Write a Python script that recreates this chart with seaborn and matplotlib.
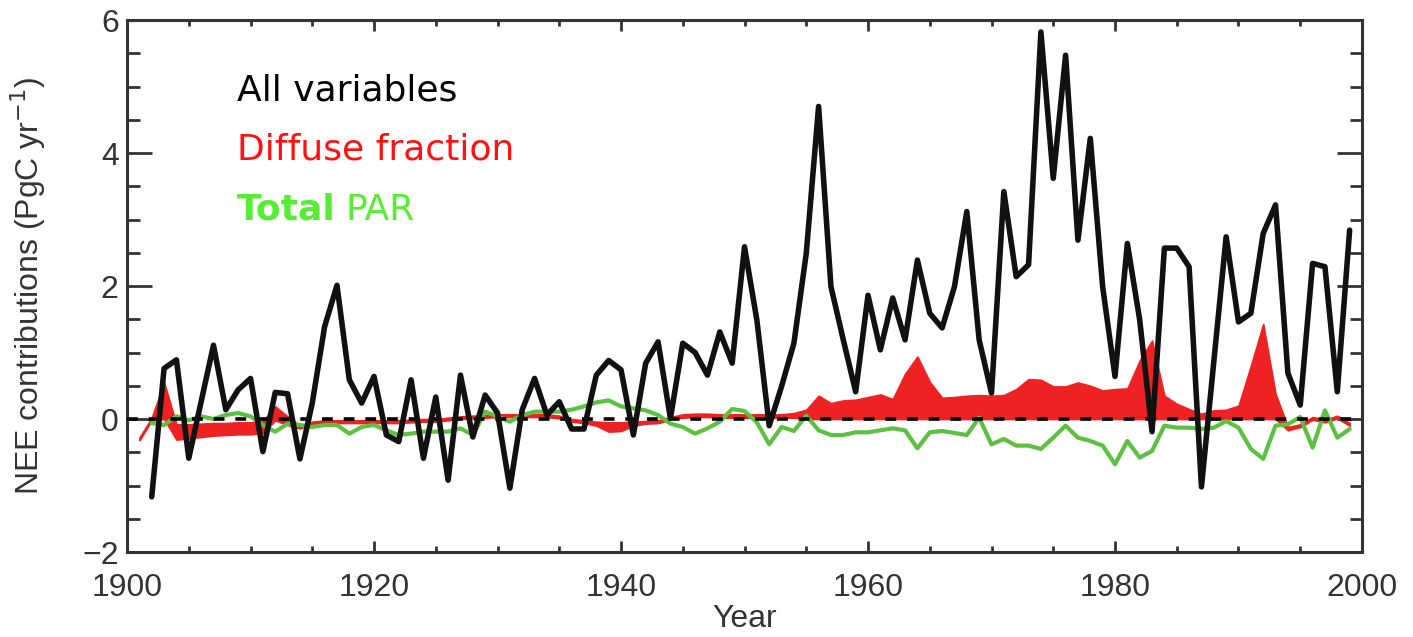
import numpy as np
import pandas as pd
import matplotlib
matplotlib.use("Agg")
import matplotlib.pyplot as plt
from matplotlib.ticker import MultipleLocator
import seaborn as sns

# ---------------- data ----------------
years = list(range(1902, 2000))
all_variables = [
    -1.17, 0.76, 0.89, -0.59, 0.26, 1.11, 0.14, 0.44, 0.61, -0.49,   # 1902-1911
    0.40, 0.38, -0.60, 0.24, 1.39, 2.01, 0.59, 0.24, 0.64, -0.24,    # 1912-1921
    -0.34, 0.59, -0.59, 0.33, -0.92, 0.66, -0.27, 0.36, 0.09, -1.04, # 1922-1931
    0.14, 0.61, 0.06, 0.26, -0.15, -0.15, 0.66, 0.88, 0.74, -0.24,   # 1932-1941
    0.84, 1.16, 0.01, 1.14, 1.00, 0.66, 1.31, 0.84, 2.59, 1.49,      # 1942-1951
    -0.10, 0.49, 1.14, 2.49, 4.70, 1.99, 1.19, 0.41, 1.86, 1.04,     # 1952-1961
    1.82, 1.19, 2.39, 1.59, 1.37, 1.99, 3.12, 1.19, 0.39, 3.42,      # 1962-1971
    2.14, 2.32, 5.82, 3.62, 5.47, 2.69, 4.22, 1.99, 0.64, 2.64,      # 1972-1981
    1.49, -0.19, 2.57, 2.57, 2.29, -1.02, 0.86, 2.74, 1.46, 1.59,    # 1982-1991
    2.79, 3.22, 0.69, 0.21, 2.34, 2.29, 0.41, 2.84,                  # 1992-1999
]
total_par = [
    -0.06, -0.09, 0.04, -0.02, 0.04, 0.00, 0.06, 0.09, 0.04, -0.09,   # 1902-1911
    -0.19, -0.07, -0.09, -0.12, -0.09, -0.09, -0.22, -0.12, -0.09, -0.17,
    -0.24, -0.22, -0.19, -0.19, -0.19, -0.14, -0.24, 0.11, 0.04, -0.04,
    0.06, 0.11, 0.11, 0.11, 0.14, 0.19, 0.25, 0.28, 0.19, 0.16,
    0.13, 0.06, -0.07, -0.12, -0.22, -0.14, -0.04, 0.15, 0.12, -0.05,
    -0.38, -0.12, -0.18, 0.05, -0.17, -0.24, -0.24, -0.20, -0.20, -0.17,
    -0.14, -0.17, -0.44, -0.20, -0.18, -0.21, -0.24, 0.02, -0.38, -0.30,
    -0.40, -0.40, -0.45, -0.28, -0.10, -0.28, -0.33, -0.40, -0.68, -0.33,
    -0.58, -0.48, -0.10, -0.13, -0.13, -0.15, -0.13, -0.03, -0.13, -0.45,
    -0.60, -0.10, -0.08, 0.03, -0.43, 0.13, -0.28, -0.15,
]

diffuse_years = list(range(1901, 2000))
diffuse_hi = [
    -0.28, 0.02, 0.55, -0.08, -0.08, -0.07, -0.06, -0.06, -0.05, -0.05,  # 1901-1910
    -0.03, 0.19, 0.04, -0.10, -0.04, -0.02, -0.02, -0.02, -0.02, -0.02,  # 1911-1920
    -0.02, -0.02, -0.01, 0.00, 0.00, 0.02, 0.04, 0.05, 0.06, 0.07,       # 1921-1930
    0.07, 0.07, 0.07, 0.07, 0.05, 0.00, -0.02, -0.04, -0.05, -0.05,      # 1931-1940
    -0.04, -0.03, -0.02, 0.03, 0.07, 0.08, 0.08, 0.07, 0.07, 0.07,       # 1941-1950
    0.07, 0.07, 0.07, 0.09, 0.14, 0.35, 0.24, 0.28, 0.29, 0.33,          # 1951-1960
    0.37, 0.30, 0.68, 0.94, 0.56, 0.32, 0.33, 0.35, 0.36, 0.35,          # 1961-1970
    0.36, 0.45, 0.60, 0.59, 0.49, 0.49, 0.55, 0.50, 0.43, 0.45,          # 1971-1980
    0.46, 0.88, 1.18, 0.35, 0.23, 0.15, 0.08, 0.13, 0.14, 0.20,          # 1981-1990
    0.80, 1.43, 0.38, -0.12, -0.08, 0.03, -0.01, 0.05, -0.06,            # 1991-1999
]
diffuse_lo = [
    -0.32, -0.02, 0.00, -0.31, -0.29, -0.27, -0.25, -0.24, -0.23, -0.23,
    -0.21, -0.02, -0.09, -0.14, -0.08, -0.06, -0.06, -0.06, -0.06, -0.06,
    -0.06, -0.06, -0.05, -0.04, -0.04, -0.02, 0.00, 0.01, 0.02, 0.03,
    0.03, 0.03, 0.03, 0.03, 0.01, -0.04, -0.06, -0.10, -0.19, -0.18,
    -0.10, -0.07, -0.06, -0.01, 0.02, 0.03, 0.03, 0.02, 0.02, 0.02,
    0.02, 0.02, 0.02, 0.02, 0.00, 0.00, 0.00, 0.00, 0.00, 0.00,
    0.00, 0.00, 0.00, 0.00, 0.00, 0.00, 0.00, 0.00, 0.00, 0.00,
    0.00, 0.00, 0.00, 0.00, 0.00, 0.00, 0.00, 0.00, 0.00, 0.00,
    0.00, 0.00, 0.00, 0.00, 0.00, 0.00, 0.00, 0.00, 0.00, 0.00,
    0.00, 0.00, 0.00, -0.17, -0.12, -0.01, -0.05, 0.01, -0.10,
]

x_ticks = [1900, 1920, 1940, 1960, 1980, 2000]
y_ticks = [-2, 0, 2, 4, 6]
y_ticklabels = ["\u22122", "0", "2", "4", "6"]
legend_labels = ["All variables", "Diffuse fraction", "Total", "PAR"]

# ---------------- plotting ----------------
sns.set_theme(style="ticks")
plt.rcParams["font.family"] = ["Liberation Sans", "DejaVu Sans"]

fig = plt.figure(figsize=(14.13, 6.37), dpi=100)
ax = fig.add_axes([0.0899, 0.1334, 0.874, 0.8352])

RED = "#ee2222"
GREEN = "#5cc040"
TXT = "#333333"

df_d = pd.DataFrame({"year": diffuse_years, "hi": diffuse_hi, "lo": diffuse_lo})
ax.fill_between(df_d["year"], df_d["lo"], df_d["hi"], color=RED, lw=1.2,
                edgecolor=RED, zorder=2)

df = pd.DataFrame({"year": years, "all": all_variables, "par": total_par})
sns.lineplot(data=df, x="year", y="par", ax=ax, color=GREEN, lw=3.0, zorder=3)
ax.axhline(0, color="black", lw=2.6, ls=(0, (3, 3)), zorder=4)
sns.lineplot(data=df, x="year", y="all", ax=ax, color="#111111", lw=4.0, zorder=5)

ax.set_xlim(1900, 2000)
ax.set_ylim(-2, 6)
ax.set_xticks(x_ticks)
ax.set_yticks(y_ticks)
ax.xaxis.set_minor_locator(MultipleLocator(5))
ax.yaxis.set_minor_locator(MultipleLocator(0.5))
ax.set_yticklabels(y_ticklabels)

ax.tick_params(which="both", direction="in", top=True, right=True,
               colors="#333333", labelcolor=TXT, labelsize=23, width=2)
ax.tick_params(axis="y", which="major", length=18, pad=6)
ax.tick_params(axis="y", which="minor", length=9)
ax.tick_params(axis="x", which="major", length=8, pad=15)
ax.tick_params(axis="x", which="minor", length=4)
for s in ax.spines.values():
    s.set_linewidth(2.2)
    s.set_color("#333333")

ax.set_xlabel("Year", fontsize=23, color=TXT)
ax.set_ylabel("NEE contributions (PgC yr$^{-1}$)", fontsize=23, color=TXT)
ax.yaxis.set_label_coords(-0.064, 0.5)
ax.xaxis.set_label_coords(0.5, -0.097)

fs = 26
ax.text(0.089, 0.867, legend_labels[0], transform=ax.transAxes, color="black",
        fontsize=fs, va="center", ha="left", family="DejaVu Sans")
ax.text(0.089, 0.756, legend_labels[1], transform=ax.transAxes, color="#ff1111",
        fontsize=fs, va="center", ha="left", family="DejaVu Sans")
t = ax.text(0.089, 0.643, legend_labels[2], transform=ax.transAxes, color="#55ee33",
            fontsize=fs, va="center", ha="left", family="DejaVu Sans", fontweight="bold")
fig.canvas.draw()
bb = t.get_window_extent().transformed(ax.transAxes.inverted())
ax.text(bb.x1 + 0.008, 0.643, legend_labels[3], transform=ax.transAxes, color="#55ee33",
        fontsize=fs, va="center", ha="left", family="DejaVu Sans")

fig.savefig("out.png", dpi=100)
